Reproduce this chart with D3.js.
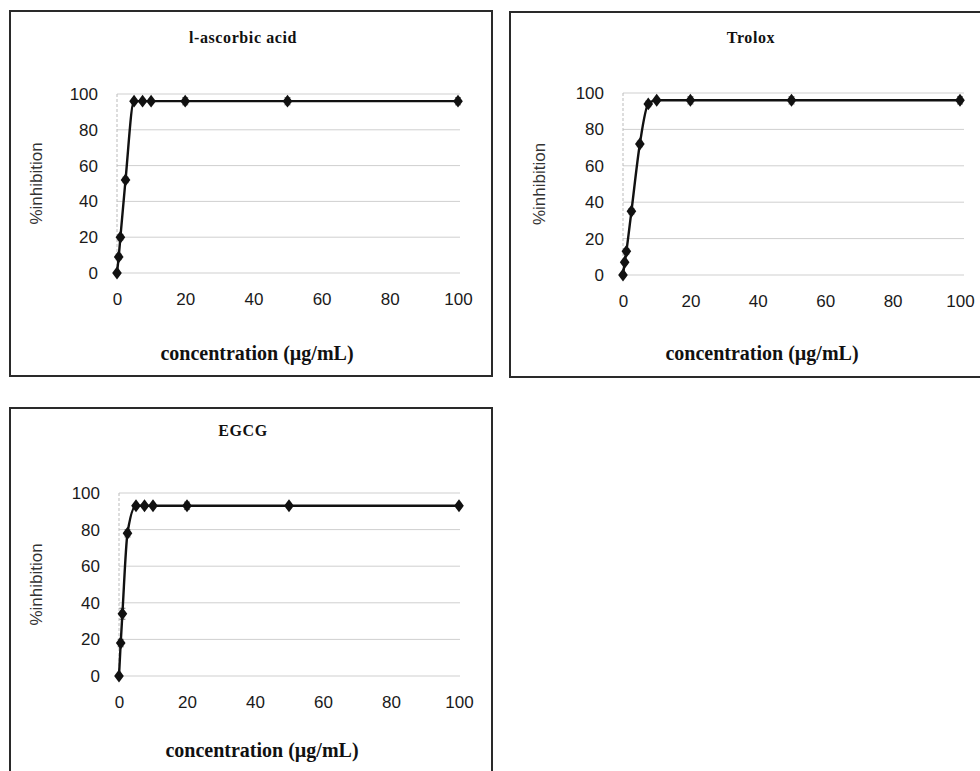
<!DOCTYPE html>
<html><head><meta charset="utf-8">
<script src="https://cdn.jsdelivr.net/npm/d3@7"></script>
<style>body{margin:0;background:#fff}svg{display:block}</style>
</head><body>
<svg id="c" width="980" height="771"></svg>
<script>
// ---- data ----
const titles = ["l-ascorbic acid", "Trolox", "EGCG"];
const xTicks = [0, 20, 40, 60, 80, 100];
const yTicks = [0, 20, 40, 60, 80, 100];
const xLabel = "concentration (\u00b5g/mL)";
const yLabel = "%inhibition";

const concAsc = [0, 0.5, 1, 2.5, 5, 7.5, 10, 20, 50, 100];
const inhAsc  = [0, 9, 20, 52, 96, 96, 96, 96, 96, 96];
const errAsc  = [0, 1.5, 1.5, 1.5, 1, 1, 1, 2, 2, 2];

const concTro = [0, 0.5, 1, 2.5, 5, 7.5, 10, 20, 50, 100];
const inhTro  = [0, 7, 13, 35, 72, 94, 96, 96, 96, 96];
const errTro  = [1, 1, 1.5, 1.5, 1.5, 1.5, 1, 2, 2, 2];

const concEg  = [0, 0.5, 1, 2.5, 5, 7.5, 10, 20, 50, 100];
const inhEg   = [0, 18, 34, 78, 93, 93, 93, 93, 93, 93];
const errEg   = [0, 2, 3, 2, 1, 1, 1, 2, 1, 1];

// ---- layout ----
const panels = [
  {conc: concAsc, inh: inhAsc, err: errAsc, box: [10, 11, 482, 365], x0: 117, x1: 458, xEnd: 460, y0: 273, y1: 94, tx: 243, ty: 43, lx: 42, xl: 257, xlY: 360},
  {conc: concTro, inh: inhTro, err: errTro, box: [510, 12, 480, 365], x0: 623, x1: 960, xEnd: 964, y0: 275, y1: 93, tx: 751, ty: 43, lx: 545, xl: 762, xlY: 360},
  {conc: concEg, inh: inhEg, err: errEg, box: [10, 408, 482, 380], x0: 119, x1: 459, xEnd: 460, y0: 676, y1: 493, tx: 243, ty: 436, lx: 42, xl: 262, xlY: 757}
];

const svg = d3.select("#c");

panels.forEach((p, i) => {
  const g = svg.append("g");
  g.append("rect").attr("x", p.box[0]).attr("y", p.box[1]).attr("width", p.box[2]).attr("height", p.box[3])
    .attr("fill", "#fff").attr("stroke", "#2a2a2a").attr("stroke-width", 2);

  const x = d3.scaleLinear().domain([0, 100]).range([p.x0, p.x1]);
  const y = d3.scaleLinear().domain([0, 100]).range([p.y0, p.y1]);

  // gridlines
  g.selectAll(".grid").data(yTicks).enter().append("line")
    .attr("x1", p.x0).attr("x2", p.xEnd)
    .attr("y1", d => y(d)).attr("y2", d => y(d))
    .attr("stroke", "#cfcfcf").attr("stroke-width", 1);
  // left axis line
  g.append("line").attr("x1", p.x0).attr("x2", p.x0).attr("y1", y(100)).attr("y2", y(0))
    .attr("stroke", "#bbb").attr("stroke-width", 1).attr("stroke-dasharray", "3,2");

  // y ticks
  const yAxis = d3.axisLeft(y).tickValues(yTicks).tickSize(0).tickPadding(19);
  const ya = g.append("g").attr("transform", `translate(${p.x0},0)`).call(yAxis);
  ya.select(".domain").remove();
  ya.selectAll("text").attr("font-family", "Liberation Sans, Arial, sans-serif").attr("font-size", 17).attr("fill", "#1a1a1a");

  // x ticks
  const xAxis = d3.axisBottom(x).tickValues(xTicks).tickSize(0).tickPadding(20);
  const xa = g.append("g").attr("transform", `translate(0,${p.y0})`).call(xAxis);
  xa.select(".domain").remove();
  xa.selectAll("text").attr("font-family", "Liberation Sans, Arial, sans-serif").attr("font-size", 17).attr("fill", "#1a1a1a");

  // title
  g.append("text").attr("x", p.tx).attr("y", p.ty).attr("text-anchor", "middle")
    .attr("font-family", "Liberation Serif, Times New Roman, serif").attr("font-weight", "bold")
    .attr("font-size", 16).attr("letter-spacing", 0.6).attr("fill", "#111").text(titles[i]);

  // axis labels
  g.append("text").attr("transform", `translate(${p.lx},${(p.y0 + p.y1) / 2}) rotate(-90)`)
    .attr("text-anchor", "middle").attr("font-family", "Liberation Sans, Arial, sans-serif")
    .attr("font-size", 17).attr("fill", "#333").text(yLabel);
  g.append("text").attr("x", p.xl).attr("y", p.xlY).attr("text-anchor", "middle")
    .attr("font-family", "Liberation Serif, Times New Roman, serif").attr("font-weight", "bold")
    .attr("font-size", 20).attr("fill", "#111").text(xLabel);

  const pts = p.conc.map((c, k) => ({c, v: p.inh[k], e: p.err[k]}));

  // error bars
  const eb = g.selectAll(".eb").data(pts).enter().append("g");
  eb.append("line").attr("x1", d => x(d.c)).attr("x2", d => x(d.c))
    .attr("y1", d => y(d.v - d.e)).attr("y2", d => y(d.v + d.e)).attr("stroke", "#888").attr("stroke-width", 1.2);
  eb.append("line").attr("x1", d => x(d.c) - 3).attr("x2", d => x(d.c) + 3)
    .attr("y1", d => y(d.v + d.e)).attr("y2", d => y(d.v + d.e)).attr("stroke", "#888").attr("stroke-width", 1.2);
  eb.append("line").attr("x1", d => x(d.c) - 3).attr("x2", d => x(d.c) + 3)
    .attr("y1", d => y(d.v - d.e)).attr("y2", d => y(d.v - d.e)).attr("stroke", "#888").attr("stroke-width", 1.2);

  // line
  const line = d3.line().x(d => x(d.c)).y(d => y(d.v)).curve(d3.curveMonotoneX);
  g.append("path").datum(pts).attr("d", line).attr("fill", "none").attr("stroke", "#111").attr("stroke-width", 2.4);

  // markers
  const sym = d3.symbol().type(d3.symbolDiamond).size(48);
  g.selectAll(".m").data(pts).enter().append("path")
    .attr("transform", d => `translate(${x(d.c)},${y(d.v)}) scale(1.3,1)`)
    .attr("d", sym).attr("fill", "#111");
});
</script>
</body></html>
